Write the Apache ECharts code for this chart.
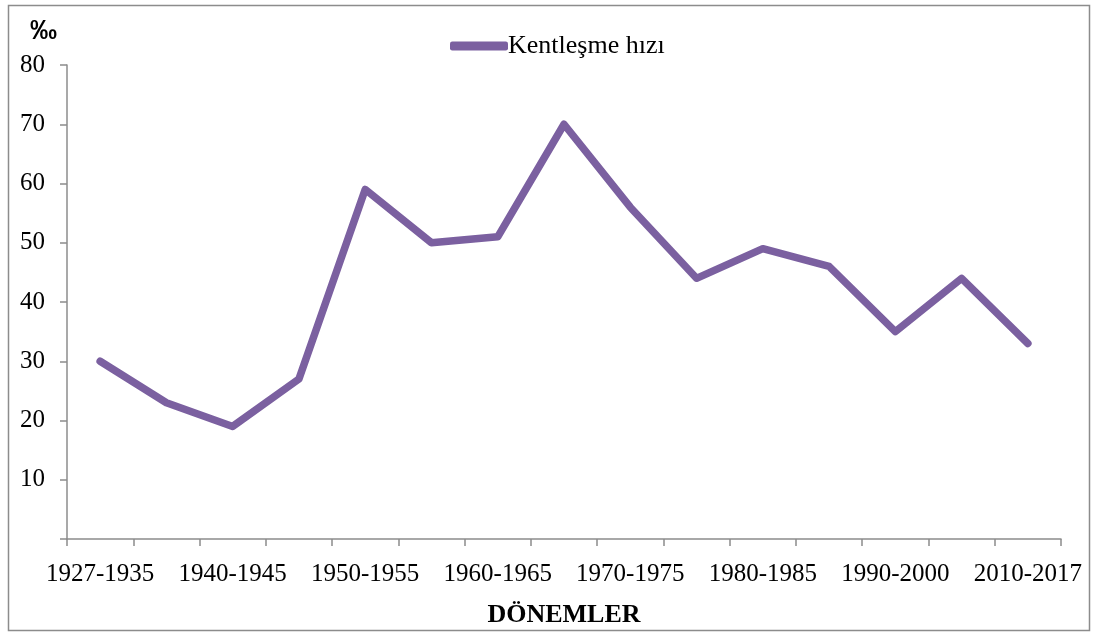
<!DOCTYPE html>
<html>
<head>
<meta charset="utf-8">
<script src="https://cdn.jsdelivr.net/npm/echarts@6/dist/echarts.min.js"></script>
<style>
  html, body { margin: 0; padding: 0; background: #fff; }
  #chart { width: 1096px; height: 633px; }
</style>
</head>
<body>
<div id="chart"></div>
<script>
// dönemler
var periods = ['1927-1935', '1935-1940', '1940-1945', '1945-1950', '1950-1955',
  '1955-1960', '1960-1965', '1965-1970', '1970-1975', '1975-1980', '1980-1985',
  '1985-1990', '1990-2000', '2000-2010', '2010-2017'];
// kentleşme hızı (‰)
var rate = [30, 23, 19, 27, 59, 50, 51, 70, 56, 44, 49, 46, 35, 44, 33];
var yTicks = [10, 20, 30, 40, 50, 60, 70, 80];

var serif = '"Liberation Serif", "DejaVu Serif", serif';
var axisGray = '#8c8c8c';

var myChart = echarts.init(document.getElementById('chart'));
var option = {
  animation: false,
  title: {
    text: '‰',
    left: 25,
    top: 13,
    textStyle: { fontFamily: 'Arial, "Liberation Sans", sans-serif', fontWeight: 'bold', fontSize: 27, color: '#000' }
  },
  legend: {
    top: 28,
    left: 445,
    itemWidth: 58,
    itemHeight: 9,
    itemGap: 0,
    icon: 'roundRect',
    textStyle: { fontFamily: serif, fontSize: 26, color: '#000', padding: [0, 0, 0, -5] },
    data: ['Kentleşme hızı']
  },
  graphic: [{
    type: 'rect',
    shape: { x: 8.5, y: 5.5, width: 1081, height: 625 },
    style: { fill: 'none', stroke: '#8c8c8c', lineWidth: 1.5 },
    silent: true
  }],
  grid: { left: 67, right: 35, top: 65, bottom: 94, outerBoundsMode: 'none' },
  xAxis: {
    type: 'category',
    data: periods,
    boundaryGap: true,
    name: 'DÖNEMLER',
    nameLocation: 'middle',
    nameGap: 63,
    nameTextStyle: { fontFamily: serif, fontWeight: 'bold', fontSize: 26, color: '#000' },
    axisLine: { lineStyle: { color: axisGray, width: 1.5 } },
    axisTick: { show: true, interval: 0, length: 7, lineStyle: { color: axisGray, width: 1.5 } },
    axisLabel: {
      interval: 1,
      margin: 23,
      fontFamily: serif,
      fontSize: 25,
      color: '#000'
    }
  },
  yAxis: {
    type: 'value',
    min: 0,
    max: 80,
    interval: 10,
    axisLine: { show: true, lineStyle: { color: axisGray, width: 1.5 } },
    axisTick: { show: true, length: 7, lineStyle: { color: axisGray, width: 1.5 } },
    splitLine: { show: false },
    axisLabel: {
      margin: 22,
      fontFamily: serif,
      fontSize: 25,
      color: '#000',
      formatter: function (v) { return yTicks.indexOf(v) >= 0 ? String(v) : ''; }
    }
  },
  series: [{
    name: 'Kentleşme hızı',
    type: 'line',
    data: rate,
    symbol: 'none',
    itemStyle: { color: '#7b60a0' },
    lineStyle: { color: '#7b60a0', width: 7.5, cap: 'round', join: 'round' }
  }]
};
myChart.setOption(option);
window.addEventListener('resize', function () { myChart.resize(); });
</script>
</body>
</html>
